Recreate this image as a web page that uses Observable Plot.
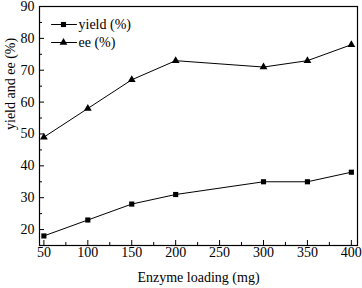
<!DOCTYPE html>
<html><head><meta charset="utf-8">
<script src="https://cdn.jsdelivr.net/npm/d3@7"></script>
<script src="https://cdn.jsdelivr.net/npm/@observablehq/plot@0.6"></script>
<style>
body{margin:0;background:#fff;}
</style>
</head><body><div id="chart"></div>
<script>
const loading = [50,100,150,200,300,350,400];
const yieldPct = [18,23,28,31,35,35,38];
const eePct = [49,58,67,73,71,73,78];
const xMajor = [50,100,150,200,250,300,350,400];
const xMinor = [75,125,175,225,275,325,375];
const yMajor = [20,30,40,50,60,70,80,90];
const yMinor = [15,25,35,45,55,65,75,85];
const seriesNames = ["yield (%)","ee (%)"];

const FONT = "Liberation Serif, Tinos, Times New Roman, Times, serif";
const rowsY = loading.map((x,i)=>({x, v: yieldPct[i]}));
const rowsE = loading.map((x,i)=>({x, v: eePct[i]}));
const lineShape = {draw(ctx,l){ctx.moveTo(0,0);ctx.lineTo(0,-l);}};

function legendItem(name, symbol, dy) {
  return [
    Plot.vector([name], {frameAnchor: "top-left", dx: 12, dy, anchor: "start", rotate: 90, length: 25, shape: lineShape, stroke: "#000", strokeWidth: 1}),
    Plot.dot([name], {frameAnchor: "top-left", dx: 24, dy, symbol, r: 2.9, fill: "#000"}),
    Plot.text([name], {frameAnchor: "top-left", dx: 39, dy, textAnchor: "start", lineAnchor: "middle", fontSize: 14, fontFamily: FONT})
  ];
}

const chart = Plot.plot({
  width: 362, height: 288,
  marginLeft: 39, marginRight: 5, marginTop: 6, marginBottom: 43,
  style: {fontSize: "14px", fontFamily: FONT, color: "#000", background: "#fff"},
  x: {domain: [45, 407]},
  y: {domain: [15, 90]},
  marks: [
    Plot.frame({stroke: "#000", strokeWidth: 1.2}),
    Plot.axisX(xMajor, {anchor: "bottom", tickSize: -5, tickPadding: 7, label: null, fontSize: 14, fontFamily: FONT}),
    Plot.axisX(xMinor, {anchor: "bottom", tickSize: -3, tickFormat: () => "", label: null}),
    Plot.axisY(yMajor, {anchor: "left", tickSize: -5, tickPadding: 10, label: null, fontSize: 14, fontFamily: FONT}),
    Plot.axisY(yMinor, {anchor: "left", tickSize: -3, tickFormat: () => "", label: null}),
    Plot.text(["Enzyme loading (mg)"], {frameAnchor: "bottom", dy: 36, fontSize: 14, fontFamily: FONT}),
    Plot.text(["yield and ee (%)"], {frameAnchor: "left", rotate: -90, dx: -29, dy: 4, fontSize: 14, fontFamily: FONT}),
    Plot.line(rowsY, {x: "x", y: "v", stroke: "#000", strokeWidth: 1}),
    Plot.line(rowsE, {x: "x", y: "v", stroke: "#000", strokeWidth: 1}),
    Plot.dot(rowsY, {x: "x", y: "v", symbol: "square", r: 2.9, fill: "#000"}),
    Plot.dot(rowsE, {x: "x", y: "v", symbol: "triangle", r: 2.9, fill: "#000"}),
    ...legendItem(seriesNames[0], "square", 18),
    ...legendItem(seriesNames[1], "triangle", 36)
  ]
});
chart.setAttribute("font-family", FONT);
chart.querySelectorAll("g, text").forEach(t => { t.setAttribute("font-family", FONT); t.style.fontFamily = FONT; });
document.getElementById("chart").appendChild(chart);
</script>
</body></html>
